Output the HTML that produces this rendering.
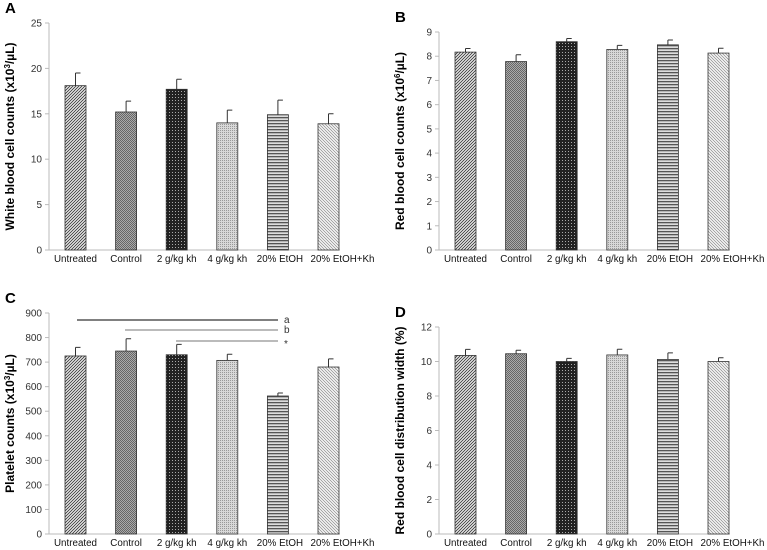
<!DOCTYPE html>
<html><head><meta charset="utf-8">
<style>
html,body{margin:0;padding:0;background:#fff;}
svg{display:block;font-family:"Liberation Sans",Arial,sans-serif;}
</style></head>
<body>
<svg id="fig" width="767" height="550" viewBox="0 0 767 550" xmlns="http://www.w3.org/2000/svg">
<defs>
<pattern id="pDiag" patternUnits="userSpaceOnUse" width="3" height="3"><rect width="3" height="3" fill="#fff"/><path d="M-1,1 l2,-2 M0,3 l3,-3 M2,4 l2,-2" stroke="#444" stroke-width="1"/></pattern>
<pattern id="pCheck" patternUnits="userSpaceOnUse" width="2" height="2"><rect width="2" height="2" fill="#aaa"/><rect width="1" height="1" fill="#666"/><rect x="1" y="1" width="1" height="1" fill="#666"/></pattern>
<pattern id="pDark" patternUnits="userSpaceOnUse" width="3" height="3"><rect width="3" height="3" fill="#222"/><rect x="1" y="1" width="1" height="1" fill="#aaa"/></pattern>
<pattern id="pLight" patternUnits="userSpaceOnUse" width="2" height="2"><rect width="2" height="2" fill="#d8d8d8"/><rect width="1" height="1" fill="#999"/></pattern>
<pattern id="pHoriz" patternUnits="userSpaceOnUse" width="3" height="3"><rect width="3" height="3" fill="#ddd"/><rect width="3" height="1.3" fill="#555"/></pattern>
<pattern id="pBack" patternUnits="userSpaceOnUse" width="3" height="3"><rect width="3" height="3" fill="#fff"/><path d="M-1,2 l2,2 M0,0 l3,3 M2,-1 l2,2" stroke="#999" stroke-width="0.9"/></pattern>
</defs>
</svg>
<script>
const categories = ["Untreated","Control","2 g/kg kh","4 g/kg kh","20% EtOH","20% EtOH+Kh"];
const wbcValues = [18.1,15.2,17.7,14.0,14.9,13.9];
const wbcErrors = [1.4,1.2,1.1,1.4,1.6,1.1];
const wbcTicks = [0,5,10,15,20,25];
const rbcValues = [8.17,7.78,8.6,8.28,8.47,8.13];
const rbcErrors = [0.15,0.28,0.13,0.17,0.2,0.2];
const rbcTicks = [0,1,2,3,4,5,6,7,8,9];
const pltValues = [725,745,730,707,562,680];
const pltErrors = [35,50,42,25,12,33];
const pltTicks = [0,100,200,300,400,500,600,700,800,900];
const rdwValues = [10.35,10.45,10.0,10.38,10.12,10.0];
const rdwErrors = [0.35,0.2,0.18,0.33,0.38,0.22];
const rdwTicks = [0,2,4,6,8,10,12];
const fills = ["url(#pDiag)","url(#pCheck)","url(#pDark)","url(#pLight)","url(#pHoriz)","url(#pBack)"];
const labelShift = [0,0,0,0,2,14];
const NS="http://www.w3.org/2000/svg";
const svg=document.getElementById('fig');
function mk(tag,attrs,parent){const e=document.createElementNS(NS,tag);for(const k in attrs)e.setAttribute(k,attrs[k]);(parent||svg).appendChild(e);return e;}

function panel(cfg){
  const g=mk('g',{});
  
  
  const maxV=cfg.ticks[cfg.ticks.length-1];
  const y=v=>cfg.y0-(v/maxV)*(cfg.y0-cfg.yTop);
  const x=i=>cfg.x0+16+i*50.6;
  const bw=21;
  const lt=mk('text',{x:cfg.x0-44,y:cfg.yTop-10,'font-size':15,'font-weight':'bold',fill:'#000'},g);
  lt.textContent=cfg.letter;
  
  
  const ax=mk('line',{x1:cfg.x0,y1:cfg.yTop,x2:cfg.x0,y2:cfg.y0,stroke:'#bbb','stroke-width':1},g);
  
  
  const xa=mk('line',{x1:cfg.x0,y1:cfg.y0,x2:cfg.x0+291,y2:cfg.y0,stroke:'#bbb','stroke-width':1},g);
  
  
  cfg.ticks.forEach(t=>{
    mk('line',{x1:cfg.x0-4,y1:y(t),x2:cfg.x0,y2:y(t),stroke:'#bbb'},g);
    const tt=mk('text',{x:cfg.x0-7,y:y(t)+3.5,'font-size':10,'text-anchor':'end',fill:'#333'},g);
    tt.textContent=t;
    
    
  });
  cfg.values.forEach((v,i)=>{
    const b=mk('rect',{x:x(i),y:y(v),width:bw,height:cfg.y0-y(v),fill:fills[i],stroke:'#333','stroke-width':0.8},g);
    
    
    const cx=x(i)+bw/2, top=y(v+cfg.errors[i]);
    const eb=mk('path',{d:`M${cx},${y(v)} V${top} M${cx},${top} H${cx+5}`,stroke:'#333','stroke-width':1,fill:'none'},g);
    
    
    const cl=mk('text',{x:cx+labelShift[i],y:cfg.y0+12,'font-size':9.8,'text-anchor':'middle',fill:'#111'},g);
    cl.textContent=categories[i];
    
    
  });
  const mid=(cfg.yTop+cfg.y0)/2;
  const at=mk('text',{x:cfg.x0-35,y:mid,'font-size':12,'font-weight':'bold','text-anchor':'middle',fill:'#000',transform:`rotate(-90 ${cfg.x0-35} ${mid})`},g);
  at.innerHTML=cfg.title;
  
  
  return {g,x,y};
}
panel({name:'panel-a-wbc',letter:'A',x0:49,yTop:23,y0:250,ticks:wbcTicks,values:wbcValues,errors:wbcErrors,title:'White blood cell counts (x10<tspan font-size="8" dy="-4">3</tspan><tspan dy="4">/µL)</tspan>'});
panel({name:'panel-b-rbc',letter:'B',x0:439,yTop:32,y0:250,ticks:rbcTicks,values:rbcValues,errors:rbcErrors,title:'Red blood cell counts (x10<tspan font-size="8" dy="-4">6</tspan><tspan dy="4">/µL)</tspan>'});
panel({name:'panel-c-platelet',letter:'C',x0:49,yTop:313,y0:534,ticks:pltTicks,values:pltValues,errors:pltErrors,title:'Platelet counts (x10<tspan font-size="8" dy="-4">3</tspan><tspan dy="4">/µL)</tspan>'});
panel({name:'panel-d-rdw',letter:'D',x0:439,yTop:327,y0:534,ticks:rdwTicks,values:rdwValues,errors:rdwErrors,title:'Red blood cell distribution width (%)'});
const sigs=[{y:320,x1:77,lab:'a',c:'#000'},{y:330,x1:125,lab:'b',c:'#777'},{y:341,x1:176,lab:'*',c:'#777'}];
sigs.forEach(s=>{
  const l=mk('line',{x1:s.x1,y1:s.y,x2:278,y2:s.y,stroke:s.c,'stroke-width':1});
  
  
  const t=mk('text',{x:284,y:s.y+(s.lab==='*'?6:3),'font-size':10,fill:'#333'});
  t.textContent=s.lab;
  
  
});
</script>
</body></html>
